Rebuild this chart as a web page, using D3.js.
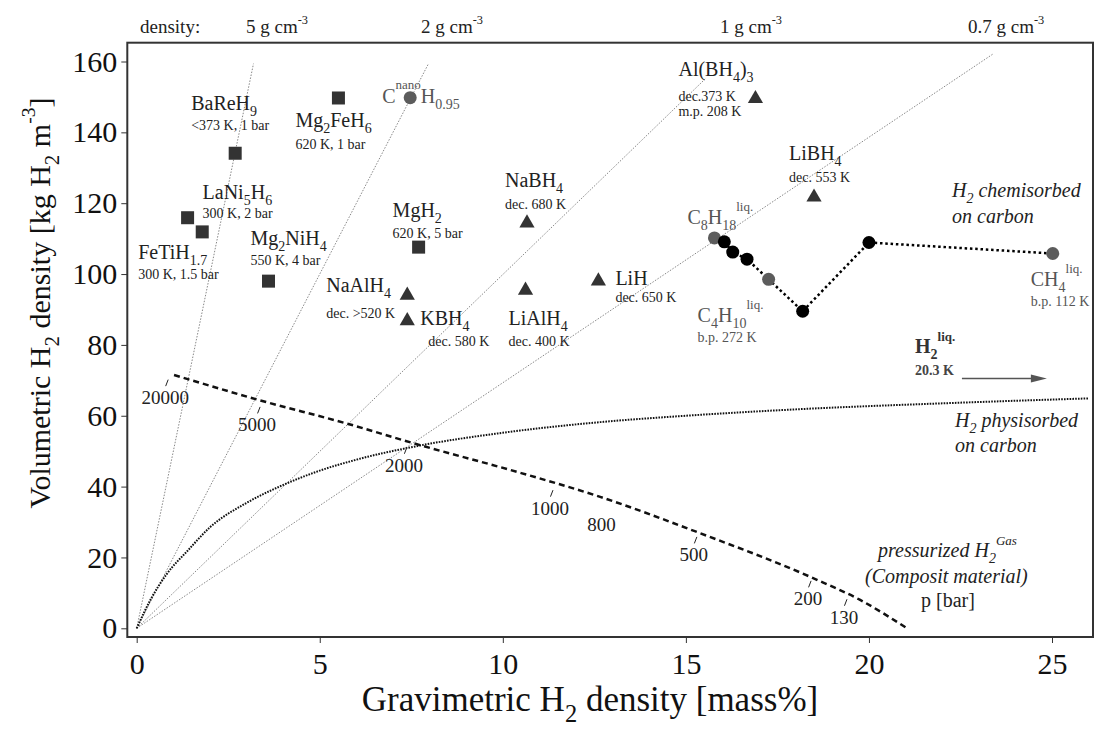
<!DOCTYPE html>
<html>
<head>
<meta charset="utf-8">
<script src="https://cdn.jsdelivr.net/npm/d3@7"></script>
<style>
  body { margin: 0; background: #fff; }
  svg { display: block; font-family: "Liberation Serif", "Times New Roman", serif; }
</style>
</head>
<body>
<div id="chart"></div>
<script>
// metal hydrides (squares)
const hydrideNames = ["BaReH_{9}", "Mg_{2}FeH_{6}", "LaNi_{5}H_{6}", "FeTiH_{1.7}", "Mg_{2}NiH_{4}", "MgH_{2}"];
const hydrideMass = [2.69, 5.51, 1.39, 1.79, 3.60, 7.70];
const hydrideVol = [134.1, 149.7, 115.9, 111.9, 98.0, 107.6];
const hydrideCond = ["<373 K, 1 bar", "620 K, 1 bar", "300 K, 2 bar", "300 K, 1.5 bar", "550 K, 4 bar", "620 K, 5 bar"];

// complex hydrides (triangles)
const complexNames = ["NaAlH_{4}", "KBH_{4}", "NaBH_{4}", "LiAlH_{4}", "LiH", "Al(BH_{4})_{3}", "LiBH_{4}"];
const complexMass = [7.39, 7.39, 10.66, 10.62, 12.61, 16.90, 18.50];
const complexVol = [94.0, 86.8, 114.4, 95.4, 98.0, 149.5, 121.7];
const complexCond = ["dec. >520 K", "dec. 580 K", "dec. 680 K", "dec. 400 K", "dec. 650 K", "dec.373 K|m.p. 208 K", "dec. 553 K"];

// H2 chemisorbed on carbon / hydrocarbons (circles)
const carbonNames = ["C_{8}H_{18}", "", "", "", "C_{4}H_{10}", "", "", "CH_{4}"];
const carbonMass = [15.78, 16.05, 16.28, 16.67, 17.26, 18.19, 20.00, 25.02];
const carbonVol = [110.2, 109.1, 106.2, 104.2, 98.5, 89.5, 108.9, 105.8];
const carbonLiquid = [true, false, false, false, true, false, false, true];
const carbonCond = ["", "", "", "", "b.p. 272 K", "", "", "b.p. 112 K"];
const nanoMass = 7.47, nanoVol = 149.8;

// density guide lines (end points)
const densityLabels = ["5 g cm^{-3}", "2 g cm^{-3}", "1 g cm^{-3}", "0.7 g cm^{-3}"];
const densityEndMass = [3.19, 7.97, 15.53, 23.40];
const densityEndVol = [159.4, 159.4, 155.1, 162.2];

// H2 physisorbed on carbon
const physMass = [0, 0.4, 0.82, 1.4, 2, 3, 3.92, 5, 6, 7.74, 10, 12.66, 15, 18, 22, 26];
const physVol = [0, 8.5, 15.3, 22, 28.5, 35.4, 40.1, 44.5, 47.6, 51.6, 55.2, 58.2, 60.0, 61.8, 63.5, 64.9];

// pressurized H2 gas (composite tank)
const gasMass = [1.02, 3.35, 5.74, 7.74, 10.2, 12.66, 15.4, 18.49, 19.76, 21.04];
const gasVol = [71.5, 64.4, 57.8, 51.7, 44.7, 37.1, 26.8, 14.1, 8.0, 0];
const pressureLabels = ["20000", "5000", "2000", "1000", "800", "500", "200", "130"];
const pressureMass = [0.86, 3.37, 7.38, 11.37, 12.78, 15.30, 18.42, 19.40];
const pressureVol = [70.2, 62.5, 51.1, 39.0, 34.5, 25.8, 13.4, 8.2];
const pressureTick = [true, true, true, true, false, true, true, true];

// liquid hydrogen arrow
const liqArrowMass = [22.54, 24.86];
const liqArrowVol = 70.5;

const xTicks = [0, 5, 10, 15, 20, 25];
const yTicks = [0, 20, 40, 60, 80, 100, 120, 140, 160];

// label placement: [name dx, name dy, cond dx, cond dy] px from marker
const labelLayout = {
    "BaReH_{9}": [-44, -43, -44, -23],
    "Mg_{2}FeH_{6}": [-43, 29, -43, 51],
    "LaNi_{5}H_{6}": [15, -19, 15, 0],
    "FeTiH_{1.7}": [-64, 27, -64, 47],
    "Mg_{2}NiH_{4}": [-18, -36, -18, -16],
    "MgH_{2}": [-26, -30, -26, -9],
    "NaAlH_{4}": [-81, -3, -81, 23],
    "KBH_{4}": [13, 4, 21, 25],
    "NaBH_{4}": [-22, -36, -22, -14],
    "LiAlH_{4}": [-17, 35, -17, 56],
    "LiH": [17, 4, 17, 21],
    "Al(BH_{4})_{3}": [-77, -23, -77, 2],
    "LiBH_{4}": [-25, -37, -25, -15],
    "C_{8}H_{18}": [-27, -14, 0, 0],
    "C_{4}H_{10}": [-71, 43, -71, 63],
    "CH_{4}": [-22, 32, -22, 52]
};
const densityLabelX = [246, 421, 720, 968];

const width = 1097, height = 729;
const frame = { left: 127.3, right: 1093, top: 42.7, bottom: 637 };
const serif = "Liberation Serif";

const x = d3.scaleLinear().domain([0, 25]).range([136.7, 1052]);
const y = d3.scaleLinear().domain([0, 160]).range([628.3, 61.5]);

const svg = d3.select("#chart").append("svg")
    .attr("width", width)
    .attr("height", height);

// text with _{sub} and ^{sup} pieces
function richText(sel, str, size, supUp) {
    const parts = str.match(/_\{[^}]*\}|\^\{[^}]*\}|[^_^]+/g);
    let shift = 0;
    parts.forEach(p => {
        let dy = 0, fs = size, txt = p;
        if (p[0] === "_") { dy = size * 0.3; fs = size * 0.7; txt = p.slice(2, -1); }
        else if (p[0] === "^") { dy = -size * (supUp || 0.45); fs = size * 0.65; txt = p.slice(2, -1); }
        sel.append("tspan").attr("dy", dy - shift).attr("font-size", fs).text(txt);
        shift = dy;
    });
    return sel;
}

function addText(px, py, str, size, opts) {
    opts = opts || {};
    const t = svg.append("text")
        .attr("x", px).attr("y", py)
        .attr("font-family", serif)
        .attr("font-size", size)
        .attr("fill", opts.fill || "#222")
        .attr("text-anchor", opts.anchor || "start");
    if (opts.italic) t.attr("font-style", "italic");
    if (opts.bold) t.attr("font-weight", "bold");
    return richText(t, str, size, opts.supUp);
}

const line = d3.line().x(d => x(d[0])).y(d => y(d[1]));

// density guide lines
densityEndMass.forEach((m, i) => {
    svg.append("path")
        .attr("d", line([[0, 0], [m, densityEndVol[i]]]))
        .attr("fill", "none")
        .attr("stroke", "#888")
        .attr("stroke-width", 1)
        .attr("stroke-dasharray", "1.5,1.5");
});

// physisorbed curve
svg.append("path")
    .attr("d", line.curve(d3.curveMonotoneX)(d3.zip(physMass, physVol)))
    .attr("fill", "none")
    .attr("stroke", "#111")
    .attr("stroke-width", 2)
    .attr("stroke-dasharray", "1.6,1.2");

// pressurized gas curve
svg.append("path")
    .attr("d", line.curve(d3.curveMonotoneX)(d3.zip(gasMass, gasVol)))
    .attr("fill", "none")
    .attr("stroke", "#111")
    .attr("stroke-width", 2.5)
    .attr("stroke-dasharray", "6,4");
line.curve(d3.curveLinear);

pressureLabels.forEach((lab, i) => {
    const px = x(pressureMass[i]), py = y(pressureVol[i]);
    if (pressureTick[i]) {
        svg.append("line")
            .attr("x1", px - 2.5).attr("y1", py + 6.5)
            .attr("x2", px).attr("y2", py)
            .attr("stroke", "#222").attr("stroke-width", 1);
    }
    addText(px - 3, py + 24.5, lab, 19, { anchor: "middle" });
});

// chemisorbed dotted connection
svg.append("path")
    .attr("d", line(d3.zip(carbonMass, carbonVol)))
    .attr("fill", "none")
    .attr("stroke", "#000")
    .attr("stroke-width", 2.5)
    .attr("stroke-dasharray", "2.5,2.8");

// frame
svg.append("rect")
    .attr("x", frame.left).attr("y", frame.top)
    .attr("width", frame.right - frame.left)
    .attr("height", frame.bottom - frame.top)
    .attr("fill", "none")
    .attr("stroke", "#333")
    .attr("stroke-width", 2);

// axes
const xAxis = svg.append("g")
    .attr("transform", `translate(0,${frame.bottom})`)
    .call(d3.axisBottom(x).tickValues(xTicks).tickSize(6).tickPadding(10).tickFormat(d3.format("d")));
const yAxis = svg.append("g")
    .attr("transform", `translate(${frame.left},0)`)
    .call(d3.axisLeft(y).tickValues(yTicks).tickSize(6).tickPadding(4).tickFormat(d3.format("d")));
[xAxis, yAxis].forEach(a => {
    a.select(".domain").remove();
    a.selectAll(".tick line").attr("stroke", "#333");
    a.selectAll(".tick text")
        .attr("font-family", serif)
        .attr("font-size", 30)
        .attr("fill", "#111");
});

addText(590, 711, "Gravimetric H_{2} density [mass%]", 35, { anchor: "middle", fill: "#111" });
const yTitle = addText(0, 0, "Volumetric H_{2} density [kg H_{2} m^{-3}]", 30, { anchor: "middle", fill: "#111", supUp: 0.5 });
yTitle.attr("transform", "translate(50,303) rotate(-90)");

// density labels above the frame
addText(140, 33, "density:", 19);
densityLabels.forEach((lab, i) => addText(densityLabelX[i], 33, lab, 19, { supUp: 0.45 }));

// markers
const markerFill = "#333";
hydrideNames.forEach((n, i) => {
    svg.append("rect")
        .attr("x", x(hydrideMass[i]) - 6.5).attr("y", y(hydrideVol[i]) - 6.5)
        .attr("width", 13).attr("height", 13)
        .attr("fill", markerFill);
});
complexNames.forEach((n, i) => {
    svg.append("path")
        .attr("d", d3.symbol(d3.symbolTriangle, 100)())
        .attr("transform", `translate(${x(complexMass[i])},${y(complexVol[i])})`)
        .attr("fill", markerFill);
});
carbonMass.forEach((m, i) => {
    svg.append("circle")
        .attr("cx", x(m)).attr("cy", y(carbonVol[i]))
        .attr("r", 6.5)
        .attr("fill", carbonLiquid[i] ? "#5c5c5c" : "#000");
});
svg.append("circle")
    .attr("cx", x(nanoMass)).attr("cy", y(nanoVol))
    .attr("r", 6.5).attr("fill", "#5c5c5c");

// compound labels
function labelCompound(name, cond, mx, my, color, suffix) {
    const L = labelLayout[name];
    addText(mx + L[0], my + L[1], name + (suffix || ""), 20, { fill: color, supUp: 0.65 });
    if (cond) {
        cond.split("|").forEach((c, k) => {
            addText(mx + L[2], my + L[3] + k * 15, c, 14, { fill: color });
        });
    }
}
hydrideNames.forEach((n, i) => labelCompound(n, hydrideCond[i], x(hydrideMass[i]), y(hydrideVol[i]), "#222"));
complexNames.forEach((n, i) => labelCompound(n, complexCond[i], x(complexMass[i]), y(complexVol[i]), "#222"));
carbonNames.forEach((n, i) => {
    if (n) labelCompound(n, carbonCond[i], x(carbonMass[i]), y(carbonVol[i]), "#555", "^{liq.}");
});
addText(x(nanoMass) - 28, y(nanoVol) + 5, "C^{nano}H_{0.95}", 20, { fill: "#555", supUp: 0.68 });

// annotations
addText(952, 197, "H_{2} chemisorbed", 20, { italic: true });
addText(952, 223, "on carbon", 20, { italic: true });
addText(955, 427, "H_{2} physisorbed", 20, { italic: true });
addText(955, 452, "on carbon", 20, { italic: true });
addText(878, 557, "pressurized H_{2}^{Gas}", 20, { italic: true, supUp: 0.6 });
addText(865, 583, "(Composit material)", 20, { italic: true });
addText(921, 607, "p [bar]", 20);

addText(915, 353, "H_{2}^{liq.}", 20, { bold: true, fill: "#333", supUp: 0.6 });
addText(915, 375, "20.3 K", 14, { bold: true, fill: "#444" });
const ax0 = x(liqArrowMass[0]), ax1 = x(liqArrowMass[1]), ay = y(liqArrowVol);
svg.append("line")
    .attr("x1", ax0).attr("y1", ay).attr("x2", ax1 - 12).attr("y2", ay)
    .attr("stroke", "#555").attr("stroke-width", 1.5);
svg.append("path")
    .attr("d", `M${ax1},${ay} L${ax1 - 16},${ay - 4} L${ax1 - 16},${ay + 4} Z`)
    .attr("fill", "#555");
</script>
</body>
</html>
